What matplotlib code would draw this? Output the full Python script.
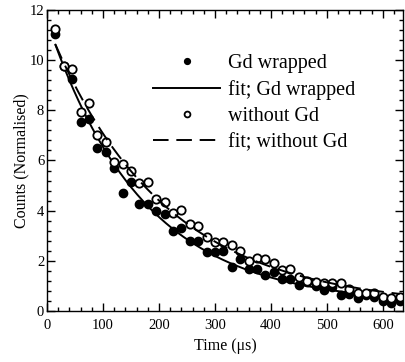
import numpy as np
import matplotlib
matplotlib.use("Agg")
import matplotlib.pyplot as plt
from matplotlib.ticker import MultipleLocator

plt.rcParams['font.family'] = ['Liberation Serif', 'DejaVu Serif']
plt.rcParams['mathtext.fontset'] = 'stix'

# time bins (us)
time = [15, 30, 45, 60, 75, 90, 105, 120, 135, 150, 165, 180, 195, 210,
        225, 240, 255, 270, 285, 300, 315, 330, 345, 360, 375, 390, 405, 420,
        435, 450, 465, 480, 495, 510, 525, 540, 555, 570, 585, 600, 615, 630]

gd_wrapped = [11.05, 9.75, 9.25, 7.55, 7.65, 6.5, 6.35, 5.72, 4.7, 5.15,
              4.27, 4.27, 4.0, 3.85, 3.2, 3.3, 2.8, 2.8, 2.35, 2.35, 2.39,
              1.75, 2.09, 1.69, 1.69, 1.45, 1.55, 1.27, 1.27, 1.04, 1.16,
              1.0, 0.84, 0.96, 0.65, 0.67, 0.51, 0.64, 0.55, 0.38, 0.3, 0.38]

without_gd = [11.25, 9.78, 9.65, 7.95, 8.3, 7.0, 6.72, 5.93, 5.88, 5.6,
              5.1, 5.15, 4.47, 4.35, 3.91, 4.03, 3.47, 3.39, 2.95, 2.75,
              2.75, 2.63, 2.39, 1.98, 2.12, 2.07, 1.9, 1.63, 1.67, 1.35,
              1.18, 1.14, 1.12, 1.1, 1.13, 0.86, 0.71, 0.72, 0.71, 0.57,
              0.5, 0.55]

# fit parameters  y = A*exp(-t/tau) + C
fit_gd = (11.31, 170.0, 0.26)
fit_nogd = (11.26, 205.0, 0.16)


def decay(t, p):
    return p[0] * np.exp(-t / p[1]) + p[2]


t_fit = np.linspace(15, 630, 300)

fig = plt.figure(figsize=(4.06, 3.62), dpi=100)
ax = fig.add_axes([0.1158, 0.1409, 0.8768, 0.8315])

ax.plot(time, gd_wrapped, 'o', color='black', ms=6, label='Gd wrapped')
ax.plot(t_fit, decay(t_fit, fit_gd), '-', color='black', lw=1.4,
        label='fit; Gd wrapped')
ax.plot(time, without_gd, 'o', mfc='white', mec='black', mew=1.3, ms=6,
        label='without Gd')
ax.plot(t_fit, decay(t_fit, fit_nogd), color='black', lw=1.4,
        ls=(0, (8, 4)), label='fit; without Gd')

ax.set_xlim(0, 636)
ax.set_ylim(0, 12)
ax.xaxis.set_major_locator(MultipleLocator(100))
ax.xaxis.set_minor_locator(MultipleLocator(20))
ax.yaxis.set_major_locator(MultipleLocator(2))
ax.yaxis.set_minor_locator(MultipleLocator(0.4))
ax.tick_params(which='both', direction='in', top=True, right=True,
               labelsize=10.5, width=1)
ax.tick_params(which='major', length=6)
ax.tick_params(which='minor', length=3)
ax.tick_params(axis='x', which='major', pad=6)
ax.tick_params(axis='y', which='major', pad=2)
for s in ax.spines.values():
    s.set_linewidth(1)

ax.set_xlabel('Time (μs)', fontsize=11.5, labelpad=4)
ax.set_ylabel('Counts (Normalised)', fontsize=11.5, labelpad=0)

ax.legend(loc='upper left', bbox_to_anchor=(0.27, 0.889), frameon=False,
          fontsize=14.5, markerscale=0.7, handlelength=3.33,
          handletextpad=0.4, labelspacing=0.36, borderpad=0)

fig.savefig('out.png', dpi=100)
